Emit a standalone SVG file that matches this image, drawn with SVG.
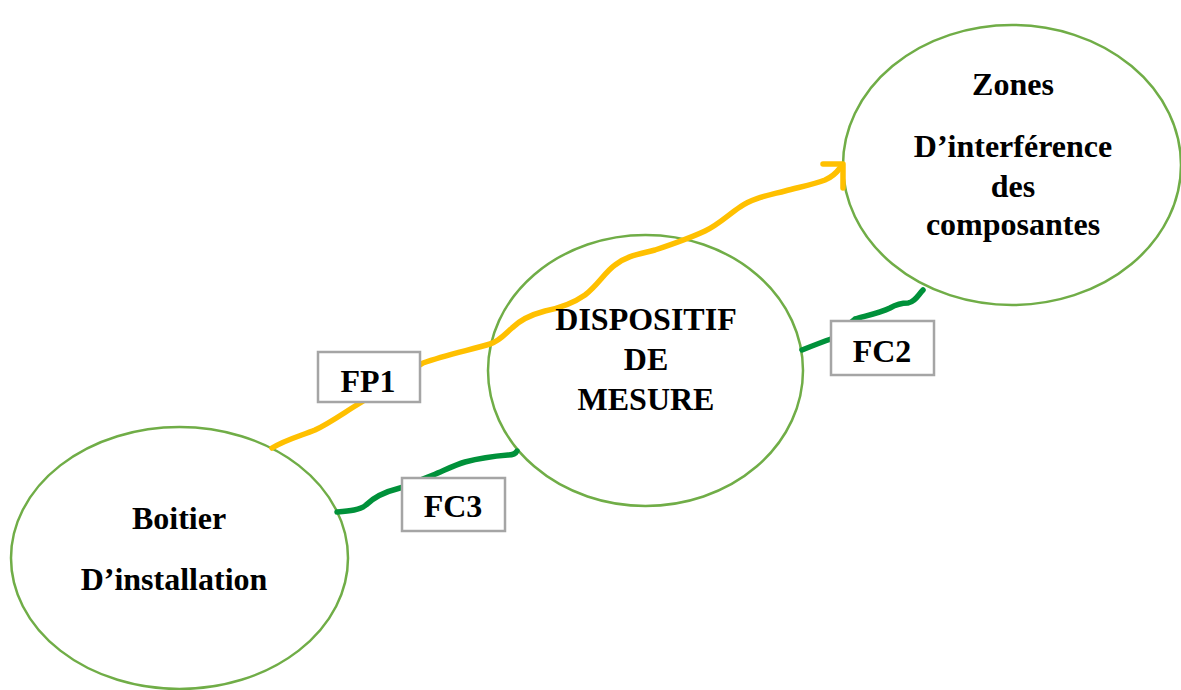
<svg xmlns="http://www.w3.org/2000/svg" width="1181" height="690" viewBox="0 0 1181 690">
<style>
.node{fill:#ffffff;stroke:#70AD47;stroke-width:2.5}
.lbl{font-family:"Liberation Serif","Times New Roman",serif;font-weight:bold;font-size:32px;fill:#000;text-anchor:middle}
.box{fill:#ffffff;stroke:#A5A5A5;stroke-width:2.5}
.fp{fill:none;stroke:#FFC000;stroke-width:5.5;stroke-linecap:round;stroke-linejoin:round}
.fc{fill:none;stroke:#00913A;stroke-width:5.5;stroke-linecap:round;stroke-linejoin:round}
</style>
<rect width="1181" height="690" fill="#ffffff"/>
<g id="node-boitier">
<ellipse class="node" cx="179.5" cy="558" rx="168.5" ry="131"/>
<text class="lbl" x="179" y="529">Boitier</text>
<text class="lbl" x="174" y="590">D’installation</text>
</g>
<g id="node-dispositif">
<ellipse class="node" cx="645.5" cy="370.5" rx="157.5" ry="135.5"/>
</g>
<g id="node-zones">
<ellipse class="node" cx="1012" cy="165" rx="169" ry="140"/>
<text class="lbl" x="1013" y="95">Zones</text>
<text class="lbl" x="1013" y="157">D’interférence</text>
<text class="lbl" x="1013" y="197">des</text>
<text class="lbl" x="1013" y="235">composantes</text>
</g>
<g id="connectors">
<path class="fp" d="M272,448 C285,440 300,436 315,430 C330,423 345,412 360,403 L423,363 C445,355 470,350 490,344 C500,341 505,334 512,328 C520,320 530,315 545,311 C560,308 575,302 585,295 C598,285 605,272 615,265 C628,255 640,254 655,250 C670,245 690,238 705,231 C718,225 728,215 740,207 C752,198 770,195 785,191 C800,187 815,184 825,180 C832,177 837,172 840,168"/>
<polyline class="fp" points="823,164 843,164 843,188"/>
<path class="fc" d="M337,512 C350,511 360,510 366,505 C372,499 380,493 400,488 L433,475 C445,470 455,465 465,462 C480,458 495,456 508,455 C513,455 516,453 517,451"/>
<path class="fc" d="M802,350 C812,346 822,342 831,339 L855,319 C865,316 880,313 890,308 C897,304 902,303 908,303 C915,302 918,295 923,290"/>
</g>
<g id="node-dispositif-text">
<text class="lbl" x="646" y="330">DISPOSITIF</text>
<text class="lbl" x="646" y="370">DE</text>
<text class="lbl" x="646" y="410">MESURE</text>
</g>
<g id="label-fp1">
<rect class="box" x="318" y="352" width="102" height="50"/>
<text class="lbl" x="368" y="392">FP1</text>
</g>
<g id="label-fc3">
<rect class="box" x="402" y="478" width="103" height="53"/>
<text class="lbl" x="453" y="517">FC3</text>
</g>
<g id="label-fc2">
<rect class="box" x="831" y="321" width="103" height="54"/>
<text class="lbl" x="882" y="362">FC2</text>
</g>
</svg>
